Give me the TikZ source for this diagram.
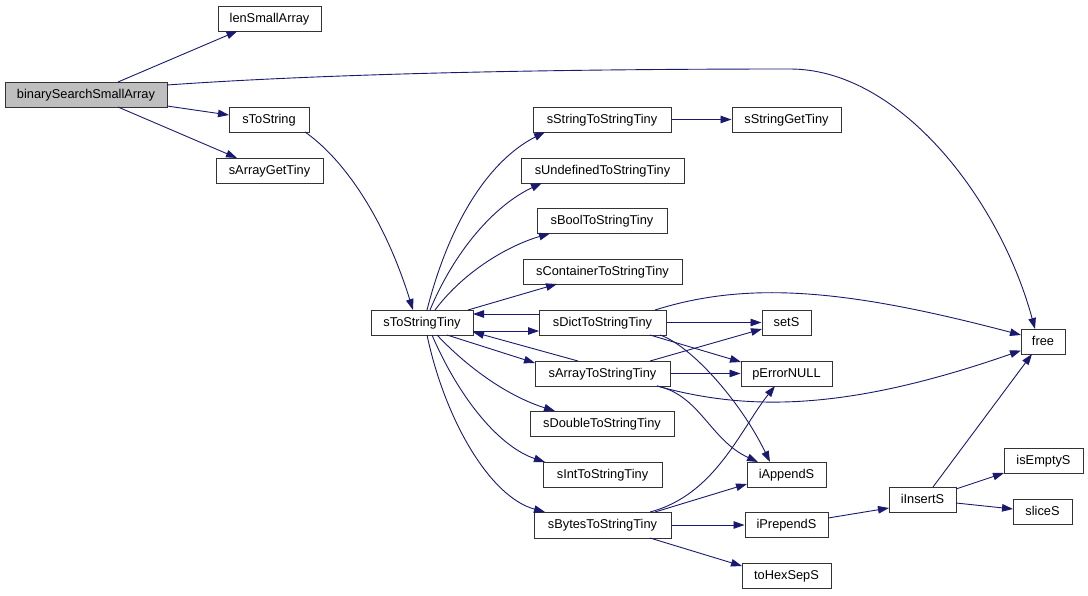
\documentclass[tikz,border=0pt]{standalone}
\usepackage{fontspec}
\setmainfont{Liberation Sans}
\usetikzlibrary{arrows.meta,calc}
\definecolor{edgecol}{HTML}{191970}
\definecolor{boxcol}{HTML}{333333}
\definecolor{rootfill}{HTML}{BFBFBF}
\begin{document}
\begin{tikzpicture}[x=1pt,y=-1pt,
  fn/.style={draw=boxcol,line width=1pt,fill=white,minimum height=25pt,inner sep=0pt,
     text height=10.6pt,text depth=3pt,
     font=\fontsize{12.8}{15}\selectfont},
  edge/.style={draw=edgecol,line width=0.9pt,-{Triangle[length=11pt,width=7.5pt]}}]
\useasboundingbox (0,0) rectangle (1088,595);
\fill[white] (0,0) rectangle (1088,595);
% nodes
\node[fn,fill=rootfill,minimum width=162pt] (bssa) at (86,94.5) {binarySearchSmallArray};
\node[fn,minimum width=103pt] (len) at (269.5,18.5) {lenSmallArray};
\node[fn,minimum width=80pt] (sts) at (269,119.5) {sToString};
\node[fn,minimum width=107pt] (sagt) at (269.5,170.5) {sArrayGetTiny};
\node[fn,minimum width=102pt] (stst) at (422,322.5) {sToStringTiny};
\node[fn,minimum width=138pt] (sstst) at (602,119.5) {sStringToStringTiny};
\node[fn,minimum width=109pt] (ssgt) at (786.5,119.5) {sStringGetTiny};
\node[fn,minimum width=163pt] (sund) at (602.5,170.5) {sUndefinedToStringTiny};
\node[fn,minimum width=130pt] (sbool) at (602,221) {sBoolToStringTiny};
\node[fn,minimum width=159pt] (scont) at (602.5,271.5) {sContainerToStringTiny};
\node[fn,minimum width=127pt] (sdict) at (602.5,322.5) {sDictToStringTiny};
\node[fn,minimum width=135pt] (sarr) at (602.5,373.5) {sArrayToStringTiny};
\node[fn,minimum width=144pt] (sdbl) at (602,423.5) {sDoubleToStringTiny};
\node[fn,minimum width=119pt] (sint) at (602.5,474.5) {sIntToStringTiny};
\node[fn,minimum width=137pt,minimum height=26pt] (sbytes) at (602.5,525) {sBytesToStringTiny};
\node[fn,minimum width=49pt] (sets) at (786.5,322.5) {setS};
\node[fn,minimum width=91pt] (perr) at (786.5,373.5) {pErrorNULL};
\node[fn,minimum width=79pt] (iapp) at (786.5,474.5) {iAppendS};
\node[fn,minimum width=83pt] (ipre) at (786.5,525) {iPrependS};
\node[fn,minimum width=89pt] (thex) at (786.5,575.5) {toHexSepS};
\node[fn,minimum width=67pt] (iins) at (922.5,499.5) {iInsertS};
\node[fn,minimum width=79pt] (isemp) at (1043.5,461) {isEmptyS};
\node[fn,minimum width=59pt] (slice) at (1042.5,511.5) {sliceS};
\node[fn,minimum width=44pt] (free) at (1043,341.5) {free};
% edges
\draw[edge] ($(bssa)+(32,-12.5)$) -- ($(len)+(-32,12.5)$);
\draw[edge] ($(bssa)+(81,-9.5)$) .. controls (350,72) and (600,69) .. (790,69)
   .. controls (900,69) and (1000,200) .. ($(free)+(-8,-12.5)$);
\draw[edge] ($(bssa)+(81,11.5)$) -- ($(sts)+(-40,-4.5)$);
\draw[edge] ($(bssa)+(32,12.5)$) -- ($(sagt)+(-32.5,-12.5)$);
\draw[edge] ($(sts)+(36,12.5)$) .. controls (345,160) and (385,220) .. ($(stst)+(-9,-12.5)$);
\draw[edge] ($(stst)+(5,-12.5)$) .. controls (450,220) and (490,160) .. ($(sstst)+(-57,12.5)$);
\draw[edge] ($(stst)+(8,-12.5)$) .. controls (455,250) and (495,205) .. ($(sund)+(-60.5,12.5)$);
\draw[edge] ($(stst)+(13,-12.5)$) .. controls (465,270) and (510,245) .. ($(sbool)+(-52,12.5)$);
\draw[edge] ($(stst)+(46,-12.5)$) -- ($(scont)+(-45.5,12.5)$);
\draw[edge] ($(sdict)+(-63.5,-8.5)$) -- ($(stst)+(51,-8.5)$);
\draw[edge] ($(stst)+(51,8.5)$) -- ($(sdict)+(-63.5,8.5)$);
\draw[edge] ($(sarr)+(-24.5,-12.5)$) -- ($(stst)+(51,9.5)$);
\draw[edge] ($(stst)+(25,12.5)$) -- ($(sarr)+(-67.5,-10.5)$);
\draw[edge] ($(stst)+(15,12.5)$) .. controls (470,370) and (510,397) .. ($(sdbl)+(-47,-12.5)$);
\draw[edge] ($(stst)+(10,12.5)$) .. controls (460,400) and (500,447) .. ($(sint)+(-57.5,-12.5)$);
\draw[edge] ($(stst)+(5,12.5)$) .. controls (445,420) and (490,497) .. ($(sbytes)+(-57.5,-13)$);
\draw[edge] (sstst.east) -- (ssgt.west);
\draw[edge] ($(sdict)+(52.5,-12.5)$) .. controls (750,280) and (850,290) .. ($(free)+(-22,-6.5)$);
\draw[edge] (sdict.east) -- (sets.west);
\draw[edge] ($(sdict)+(47.5,12.5)$) -- ($(perr)+(-45.5,-11.5)$);
\draw[edge] ($(sdict)+(57.5,12.5)$) .. controls (690,345) and (740,400) .. ($(iapp)+(-16.5,-12.5)$);
\draw[edge] ($(sarr)+(47.5,-12.5)$) -- ($(sets)+(-24.5,6.5)$);
\draw[edge] (sarr.east) -- (perr.west);
\draw[edge] ($(sarr)+(54.5,12.5)$) .. controls (750,412) and (850,410) .. ($(free)+(-22,9)$);
\draw[edge] ($(sarr)+(54.5,12.5)$) .. controls (700,395) and (710,440) .. ($(iapp)+(-28.5,-12.5)$);
\draw[edge] ($(sbytes)+(47.5,-13)$) .. controls (715,495) and (740,430) .. ($(perr)+(-11.5,12.5)$);
\draw[edge] ($(sbytes)+(52.5,-13)$) -- ($(iapp)+(-39.5,9.5)$);
\draw[edge] (sbytes.east) -- (ipre.west);
\draw[edge] ($(sbytes)+(47.5,13)$) -- ($(thex)+(-44.5,-9.5)$);
\draw[edge] ($(ipre)+(41.5,-7)$) -- ($(iins)+(-33.5,8.5)$);
\draw[edge] ($(iins)+(10.5,-12.5)$) -- ($(free)+(-11,12.5)$);
\draw[edge] ($(iins)+(33.5,-10.5)$) -- ($(isemp)+(-39.5,12)$);
\draw[edge] ($(iins)+(33.5,3.5)$) -- ($(slice)+(-29.5,-2.5)$);
\end{tikzpicture}
\end{document}
